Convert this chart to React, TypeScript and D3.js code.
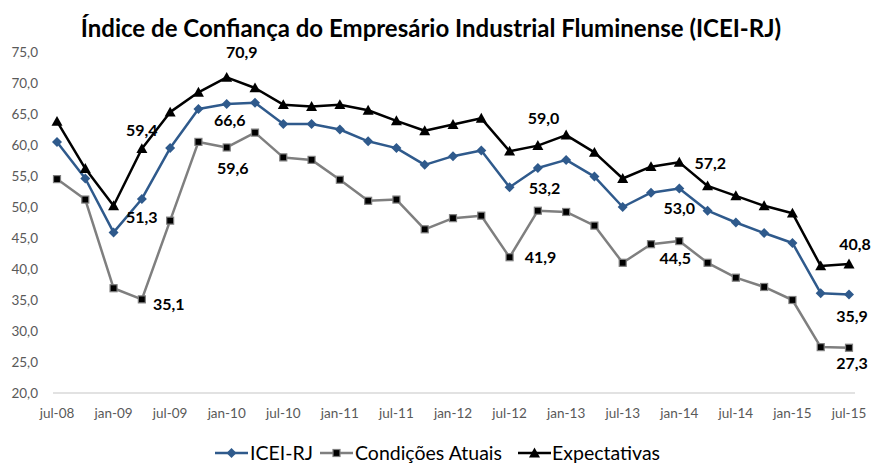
import React from "react";
import * as d3 from "d3";

const periods = [
  "jul-08","oct-08","jan-09","apr-09","jul-09","oct-09","jan-10","apr-10","jul-10","oct-10",
  "jan-11","apr-11","jul-11","oct-11","jan-12","apr-12","jul-12","oct-12","jan-13","apr-13",
  "jul-13","oct-13","jan-14","apr-14","jul-14","oct-14","jan-15","apr-15","jul-15",
];
const icei = [60.5,54.6,45.9,51.3,59.5,65.8,66.6,66.8,63.4,63.4,62.5,60.6,59.5,56.8,58.2,59.1,53.2,56.3,57.6,54.9,50.0,52.3,53.0,49.4,47.5,45.8,44.2,36.1,35.9];
const condicoes = [54.5,51.2,36.9,35.1,47.8,60.5,59.6,62.0,58.0,57.6,54.4,51.0,51.2,46.4,48.2,48.6,41.9,49.4,49.2,47.0,41.0,44.0,44.5,41.0,38.6,37.1,35.0,27.4,27.3];
const expectativas = [63.8,56.2,50.2,59.4,65.3,68.5,70.9,69.2,66.5,66.2,66.5,65.6,63.9,62.3,63.3,64.3,59.0,59.9,61.6,58.8,54.6,56.5,57.2,53.4,51.8,50.2,49.0,40.5,40.8];
const yTicks = [20,25,30,35,40,45,50,55,60,65,70,75];
const xLabelEvery = 2;

const seriesNames = ["ICEI-RJ", "Condições Atuais", "Expectativas"];
const seriesColors = ["#2F5A8C", "#7F7F7F", "#000000"];

// annotated labels: [seriesIndex, pointIndex, dx, dy]
const annotations: [number, number, number, number][] = [
  [2, 3, 0, -18],
  [2, 6, 15, -25],
  [0, 6, 3, 16],
  [1, 6, 6, 21],
  [0, 3, 0, 18],
  [1, 3, 27, 5],
  [2, 16, 34, -33],
  [0, 16, 35, 1],
  [1, 16, 31, 0],
  [2, 22, 31, 1],
  [0, 22, 0, 20],
  [1, 22, -4, 17],
  [2, 28, 6, -20],
  [0, 28, 3, 22],
  [1, 28, 3, 16],
];

const font = "Lato, 'Open Sans', sans-serif";

export default function App() {
  const W = 874, H = 463;
  const x = d3.scalePoint<string>().domain(periods).range([57, 849]);
  const y = d3.scaleLinear().domain([20, 75]).range([393, 52]);
  const all = [icei, condicoes, expectativas];
  const line = d3.line<number>().x((_, i) => x(periods[i])!).y((d) => y(d));
  const fmt = (v: number) => v.toFixed(1).replace(".", ",");

  const marker = (s: number, cx: number, cy: number, key: string) => {
    if (s === 0) {
      const r = 5;
      return <path key={key} d={`M${cx},${cy - r}L${cx + r},${cy}L${cx},${cy + r}L${cx - r},${cy}Z`} fill={seriesColors[0]} />;
    }
    if (s === 1) {
      return <rect key={key} x={cx - 3.5} y={cy - 3.5} width={7} height={7} fill="#000" stroke="#7F7F7F" strokeWidth={1.2} />;
    }
    const r = 5.5;
    return <path key={key} d={`M${cx},${cy - r}L${cx + r},${cy + r * 0.8}L${cx - r},${cy + r * 0.8}Z`} fill="#000" />;
  };

  const legendItems = [
    { lx: 215, tx: 250 },
    { lx: 320, tx: 355 },
    { lx: 518, tx: 552 },
  ];

  return (
    <svg width={W} height={H} style={{ display: "block", position: "absolute", left: 0, top: 0 }} fontFamily={font}>
      <rect width={W} height={H} fill="#fff" />
      <text x={431} y={37} textAnchor="middle" fontSize={24} fontWeight="bold" fill="#000">
        Índice de Confiança do Empresário Industrial Fluminense (ICEI-RJ)
      </text>
      {yTicks.map((t) => (
        <text key={t} x={38} y={y(t)} dy="0.35em" textAnchor="end" fontSize={13.5} fill="#595959">
          {fmt(t)}
        </text>
      ))}
      <line x1={53} x2={855} y1={393} y2={393} stroke="#D9D9D9" strokeWidth={1.5} />
      {periods.map((p, i) =>
        i % xLabelEvery === 0 ? (
          <text key={p} x={x(p)!} y={413} dy="0.35em" textAnchor="middle" fontSize={13.5} fill="#595959">
            {p}
          </text>
        ) : null
      )}
      {all.map((vals, s) => (
        <path key={s} d={line(vals)!} fill="none" stroke={seriesColors[s]} strokeWidth={2.5} strokeLinejoin="round" />
      ))}
      {all.map((vals, s) => vals.map((v, i) => marker(s, x(periods[i])!, y(v), `${s}-${i}`)))}
      {annotations.map(([s, i, dx, dy], k) => (
        <text key={k} x={x(periods[i])! + dx} y={y(all[s][i]) + dy} dy="0.35em" textAnchor="middle" fontSize={16} fontWeight="bold" fill="#000">
          {fmt(all[s][i])}
        </text>
      ))}
      {legendItems.map((it, s) => (
        <g key={s}>
          <line x1={it.lx} x2={it.lx + 33} y1={453} y2={453} stroke={seriesColors[s]} strokeWidth={2.5} />
          {marker(s, it.lx + 16.5, 453, `lg${s}`)}
          <text x={it.tx} y={453} dy="0.35em" fontSize={19.5} fill="#000">
            {seriesNames[s]}
          </text>
        </g>
      ))}
    </svg>
  );
}
